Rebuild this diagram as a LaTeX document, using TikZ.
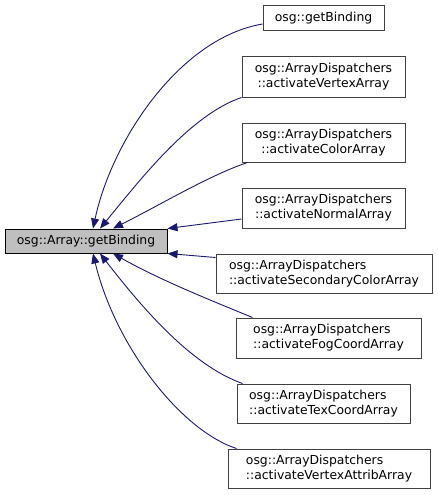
\documentclass[tikz,border=0pt]{standalone}
\usepackage{fontspec}
\setmainfont{DejaVu Sans}
\usetikzlibrary{arrows.meta}
\definecolor{edgeblue}{RGB}{25,25,112}
\definecolor{rootgray}{RGB}{191,191,191}
\definecolor{framegray}{RGB}{64,64,64}

\begin{document}
\begin{tikzpicture}[x=1pt, y=-1pt, every node/.style={font=\fontsize{12.4}{15}\selectfont}, >={Triangle[length=10pt,width=8pt]}, fn/.style={draw=framegray, line width=1pt, fill=white, inner sep=0pt, align=center}, fnl/.style={fn, align=left}, call/.style={<-, edgeblue, line width=0.9pt}]
	\useasboundingbox (0,0) rectangle (437,495);
	\node[fn, fill=rootgray, draw=black, minimum width=162pt, minimum height=24pt] (root) at (86,241) {osg::Array::getBinding};
	\node[fn, minimum width=121pt, minimum height=25pt] (getb) at (323.5,18.5) {osg::getBinding};
	\node[fn, minimum width=163pt, minimum height=40pt] (vert) at (323.5,77) {osg::ArrayDispatchers\\ ::activateVertexArray};
	\node[fn, minimum width=163pt, minimum height=39pt] (color) at (323.5,142.5) {osg::ArrayDispatchers\\ ::activateColorArray};
	\node[fn, minimum width=163pt, minimum height=40pt] (normal) at (323.5,208) {osg::ArrayDispatchers\\ ::activateNormalArray};
	\node[fnl, minimum width=216pt, minimum height=39pt] (second) at (324,273.5) {osg::ArrayDispatchers\\ ::activateSecondaryColorArray};
	\node[fnl, minimum width=185pt, minimum height=40pt] (fog) at (328.5,338) {osg::ArrayDispatchers\\ ::activateFogCoordArray};
	\node[fnl, minimum width=173pt, minimum height=39pt] (tex) at (323.5,403.5) {osg::ArrayDispatchers\\ ::activateTexCoordArray};
	\node[fnl, minimum width=202pt, minimum height=39pt] (attrib) at (329,468.5) {osg::ArrayDispatchers\\ ::activateVertexAttribArray};
	% callers above
	\draw[call] ([xshift=7pt]root.north) .. controls (112,140) and (180,38) .. ([yshift=-5.5pt]getb.west);
	\draw[call] ([xshift=14pt]root.north) .. controls (140,180) and (190,115) .. (vert.south west);
	\draw[call] ([xshift=27pt]root.north) .. controls (160,205) and (210,175) .. ([xshift=6pt]color.south west);
	\draw[call] (root.north east) -- ([yshift=-11pt]normal.west);
	% callers below
	\draw[call] (root.south east) -- ([yshift=-4pt]second.north west);
	\draw[call] ([xshift=27pt]root.south) .. controls (160,280) and (210,300) .. ([xshift=17pt]fog.north west);
	\draw[call] ([xshift=14pt]root.south) .. controls (140,305) and (190,365) .. ([xshift=6pt]tex.north west);
	\draw[call] ([xshift=7pt]root.south) .. controls (115,345) and (180,430) .. ([xshift=9pt]attrib.north west);
\end{tikzpicture}
\end{document}
